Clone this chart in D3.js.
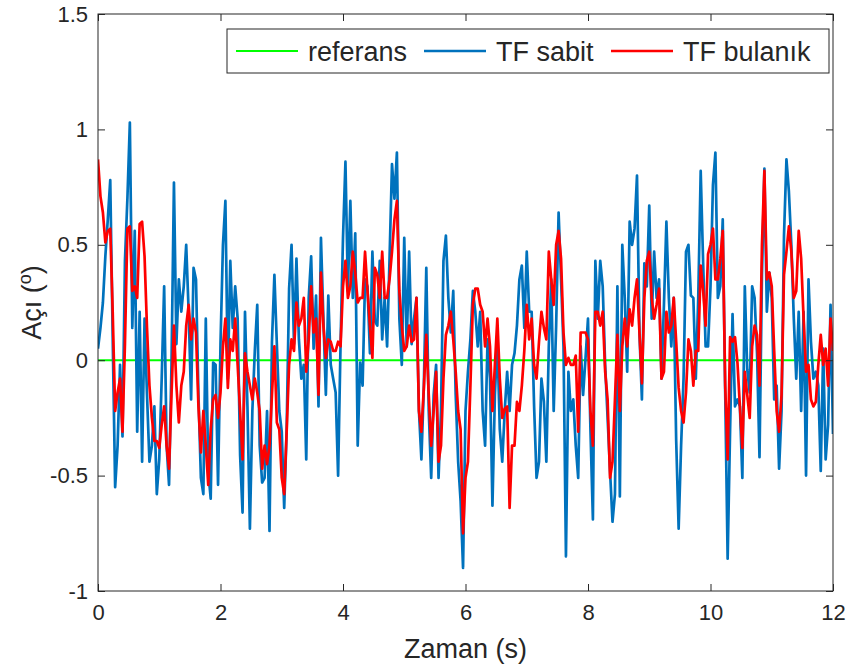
<!DOCTYPE html>
<html>
<head>
<meta charset="utf-8">
<script src="https://cdn.jsdelivr.net/npm/d3@7"></script>
<style>
  body { margin: 0; background: #fff; }
  text { font-family: "Liberation Sans", Arial, sans-serif; fill: #262626; }
</style>
</head>
<body>
<div id="chart"></div>
<script>
// örnekleme adımı (s) — seriler 0..12 s
const dt = 0.04;

// referans: sabit 0
const refTime = [0, 12];
const refValues = [0, 0];

// TF sabit (mavi)
const sabit = [
  0.05,0.14,0.25,0.45,0.61,0.78,0.1,-0.55,-0.37,-0.02,
  -0.33,0.43,0.7,1.03,0.14,0.56,-0.31,0.21,-0.44,0.18,
  -0.15,-0.44,-0.37,-0.2,-0.58,-0.43,-0.08,0.32,-0.37,-0.54,
  -0.02,0.77,0.07,0.35,0.21,0.32,0.5,0.21,-0.17,0.4,
  0.35,-0.15,-0.51,-0.58,0.18,-0.48,-0.6,-0.01,-0.02,-0.54,
  0.07,0.5,0.69,-0.08,0.43,0.14,0.32,0.18,-0.41,-0.66,
  0.21,-0.2,-0.73,-0.22,0.04,0.24,-0.37,-0.53,-0.51,-0.22,
  -0.74,0.08,0.37,0.07,-0.22,-0.31,-0.64,-0.3,0.31,0.5,
  0.07,0.44,0.09,-0.08,-0.02,-0.43,0.27,0.45,0.05,0.28,
  -0.2,0.53,0.18,-0.15,0.28,-0.02,-0.08,-0.14,-0.5,0.07,
  0.53,0.86,0.3,0.69,0.27,0.55,-0.37,-0.01,-0.11,0.35,
  0.32,0.03,0.47,0.17,0.15,0.43,0.09,0.27,0.06,0.44,
  0.85,0.7,0.9,0.18,-0.02,0.53,0.06,0.47,0.07,0.18,
  0.27,-0.22,-0.43,-0.11,0.4,-0.22,-0.51,-0.15,-0.02,-0.51,
  -0.22,0.43,0.54,0.27,0.12,0.3,-0.15,-0.44,-0.61,-0.9,
  -0.22,-0.05,0.09,0.3,0.21,0.06,0.21,-0.22,-0.37,0.09,
  -0.08,-0.63,-0.15,0.09,-0.3,-0.44,-0.22,-0.05,-0.22,-0.02,
  0.03,0.15,0.35,0.41,0.14,0.47,0.21,0.21,-0.2,-0.51,
  -0.44,-0.08,-0.18,-0.44,0.06,0.35,-0.22,0.15,0.64,0.35,
  0.06,-0.85,-0.05,-0.22,-0.17,-0.37,-0.51,0.06,-0.15,0.01,
  0.18,-0.3,-0.69,0.43,0.18,0.43,0.32,-0.02,-0.25,-0.48,
  -0.7,-0.58,0.32,-0.59,0.5,0.27,-0.05,0.6,0.5,0.57,
  0.8,0.12,-0.17,0.42,0.32,0.67,0.18,0.47,0.27,0.35,
  -0.08,0.24,0.6,0.27,0.06,0.27,-0.35,-0.73,-0.37,-0.08,
  0.47,0.5,0.28,0.27,-0.08,0.27,0.82,0.42,0.06,0.06,
  0.32,0.76,0.9,0.27,0.32,0.61,-0.14,-0.86,-0.3,0.2,
  -0.2,-0.17,-0.2,-0.51,0.32,-0.04,-0.14,0.32,0.27,0.03,
  -0.42,0.37,0.83,0.21,0.38,0.27,-0.17,-0.11,-0.47,-0.22,
  0.54,0.87,0.73,0.5,0.18,-0.08,0.21,-0.22,0.21,-0.5,
  0.35,0.08,-0.08,-0.05,-0.11,-0.48,0.05,-0.43,-0.28,0.24,
  -0.32
];

// TF bulanık (kırmızı)
const bulanik = [
  0.87,0.71,0.64,0.51,0.56,0.57,0.21,-0.22,-0.14,-0.08,
  -0.31,0.07,0.57,0.58,0.3,0.32,0.27,0.59,0.6,0.45,
  0.14,-0.11,-0.25,-0.35,-0.35,-0.38,-0.28,-0.2,-0.37,-0.47,
  -0.15,0.15,-0.11,-0.27,-0.11,-0.05,0.15,0.24,0.09,0.18,
  0.12,-0.2,-0.4,-0.22,-0.37,-0.54,-0.3,-0.17,-0.15,-0.25,
  -0.14,0.06,0.18,-0.12,0.09,0.04,0.18,-0.02,-0.22,-0.43,
  0.03,-0.05,-0.11,-0.17,-0.08,-0.14,-0.22,-0.47,-0.37,-0.45,
  -0.37,-0.15,0.06,-0.27,-0.3,-0.51,-0.58,-0.31,-0.02,0.09,
  0.04,0.25,0.15,0.18,0.27,-0.05,0.09,0.32,0.12,0.18,
  -0.15,0.38,0.15,0.01,0.09,0.08,0.04,0.04,0.08,0.06,
  0.32,0.43,0.27,0.32,0.47,0.38,0.25,0.27,0.27,0.47,
  0.3,0.15,0.01,0.4,0.37,0.27,0.47,0.27,0.27,0.35,
  0.47,0.61,0.69,0.3,0.15,0.04,0.06,0.15,0.08,0.09,
  0.27,-0.22,-0.31,-0.12,0.11,-0.15,-0.37,-0.22,-0.05,-0.44,
  -0.37,-0.08,0.11,0.15,0.21,0.09,-0.05,-0.22,-0.3,-0.75,
  -0.51,-0.44,-0.11,0.24,0.31,0.31,0.24,0.21,0.06,0.18,
  0.06,-0.22,-0.02,0.18,-0.08,-0.25,-0.21,-0.2,-0.64,-0.37,
  -0.37,-0.18,-0.22,-0.11,0.04,0.24,0.09,0.18,-0.02,-0.08,
  0.08,0.21,0.14,0.09,0.47,0.35,0.24,0.5,0.56,0.44,
  0.12,-0.02,0.01,-0.02,-0.02,0.02,-0.31,0.12,0.12,0.12,
  0.09,-0.22,-0.37,0.21,0.21,0.15,0.21,-0.05,-0.17,-0.51,
  -0.44,-0.17,0.11,-0.22,0.06,0.18,0.06,0.22,0.15,0.27,
  0.35,0.12,-0.1,0.27,0.43,0.47,0.27,0.18,0.24,0.31,
  -0.08,-0.05,0.21,0.12,0.15,0.27,0.08,-0.12,-0.22,-0.27,
  -0.14,0.09,0.04,-0.11,0.04,0.04,0.41,0.3,0.15,0.46,
  0.5,0.57,0.35,0.35,0.44,0.56,-0.11,-0.43,0.1,0.08,
  0.1,-0.01,-0.2,-0.38,-0.05,-0.15,-0.25,0.06,0.15,0.11,
  -0.11,0.5,0.82,0.35,0.38,0.32,0.04,-0.22,-0.31,-0.15,
  0.37,0.47,0.58,0.47,0.27,0.3,0.56,0.44,0.18,-0.05,
  -0.02,-0.17,-0.2,-0.18,-0.02,0.11,-0.02,0.05,-0.11,0.18,
  0.04
];

const xTicks = [0, 2, 4, 6, 8, 10, 12];
const yTicks = [-1, -0.5, 0, 0.5, 1, 1.5];
const seriesNames = ["referans", "TF sabit", "TF bulanık"];
const seriesColors = ["#00FF00", "#0072BD", "#FF0000"];

const W = 848, H = 668;
const margin = { top: 14, right: 15, bottom: 77, left: 98 };
const width = W - margin.left - margin.right,
      height = H - margin.top - margin.bottom;

const svg = d3.select("#chart").append("svg")
  .attr("width", W).attr("height", H);
const g = svg.append("g").attr("transform", `translate(${margin.left},${margin.top})`);

const x = d3.scaleLinear().domain([0, 12]).range([0, width]);
const y = d3.scaleLinear().domain([-1, 1.5]).range([height, 0]);

// nền trắng của vùng vẽ
g.append("rect").attr("width", width).attr("height", height).attr("fill", "#fff");

g.append("clipPath").attr("id", "clip").append("rect")
  .attr("width", width).attr("height", height);

const line = d3.line().x(d => x(d[0])).y(d => y(d[1]));
const toPts = arr => arr.map((v, i) => [i * dt, v]);

const plot = g.append("g").attr("clip-path", "url(#clip)");
plot.append("path")
  .datum(refTime.map((t, i) => [t, refValues[i]]))
  .attr("d", line).attr("fill", "none")
  .attr("stroke", seriesColors[0]).attr("stroke-width", 2);
plot.append("path")
  .datum(toPts(sabit))
  .attr("d", line).attr("fill", "none")
  .attr("stroke", seriesColors[1]).attr("stroke-width", 2.7)
  .attr("stroke-linejoin", "round");
plot.append("path")
  .datum(toPts(bulanik))
  .attr("d", line).attr("fill", "none")
  .attr("stroke", seriesColors[2]).attr("stroke-width", 2.7)
  .attr("stroke-linejoin", "round");

// trục (ticks hướng vào trong, có cả trên và phải)
const tickLen = 7;
const axColor = "#262626";
const styleAxis = sel => {
  sel.select(".domain").remove();
  sel.selectAll("line").attr("stroke", axColor);
  sel.selectAll("text").style("font-size", "22px").style("fill", axColor)
    .style("font-family", "'Liberation Sans', Arial, sans-serif");
};

g.append("g").attr("transform", `translate(0,${height})`)
  .call(d3.axisBottom(x).tickValues(xTicks).tickSize(-tickLen).tickPadding(13).tickFormat(d3.format("d")))
  .call(styleAxis);
g.append("g")
  .call(d3.axisTop(x).tickValues(xTicks).tickSize(-tickLen).tickFormat(""))
  .call(styleAxis);
g.append("g")
  .call(d3.axisLeft(y).tickValues(yTicks).tickSize(-tickLen).tickPadding(10).tickFormat(d => d))
  .call(styleAxis);
g.append("g").attr("transform", `translate(${width},0)`)
  .call(d3.axisRight(y).tickValues(yTicks).tickSize(-tickLen).tickFormat(""))
  .call(styleAxis);

// khung
g.append("rect").attr("width", width).attr("height", height)
  .attr("fill", "none").attr("stroke", axColor).attr("stroke-width", 1);

// nhãn trục
svg.append("text")
  .attr("x", margin.left + width / 2).attr("y", 658)
  .attr("text-anchor", "middle").style("font-size", "27px")
  .text("Zaman (s)");

const yl = svg.append("text")
  .attr("transform", `translate(41,${margin.top + y(0.25)}) rotate(-90)`)
  .attr("text-anchor", "middle").style("font-size", "27px");
yl.append("tspan").text("Açı (");
yl.append("tspan").attr("dy", -10).style("font-size", "18px").text("o");
yl.append("tspan").attr("dy", 10).text(")");

// chú thích
const leg = svg.append("g").attr("transform", "translate(227,29)");
leg.append("rect").attr("width", 602).attr("height", 44)
  .attr("fill", "#fff").attr("stroke", axColor).attr("stroke-width", 1);
const legX = [9, 197, 384];
seriesNames.forEach((name, i) => {
  leg.append("line")
    .attr("x1", legX[i]).attr("x2", legX[i] + 62)
    .attr("y1", 22).attr("y2", 22)
    .attr("stroke", seriesColors[i]).attr("stroke-width", i === 0 ? 2 : 2.7);
  leg.append("text")
    .attr("x", legX[i] + 72).attr("y", 32)
    .style("font-size", "27px").text(name);
});
</script>
</body>
</html>
